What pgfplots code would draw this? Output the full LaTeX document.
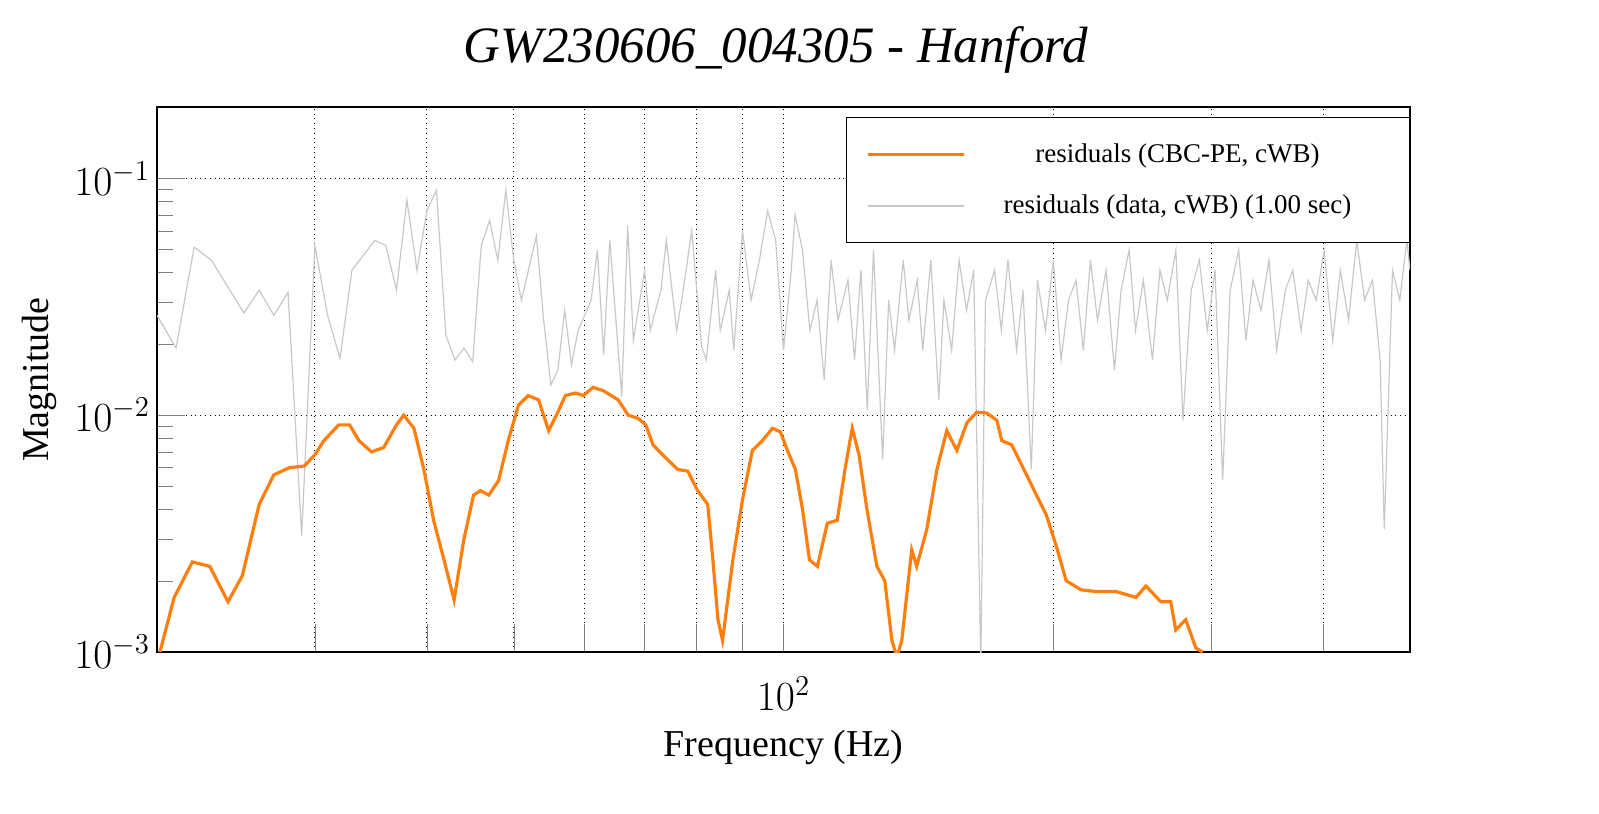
\documentclass[border=0pt]{standalone}
\usepackage{pgfplots}
\pgfplotsset{compat=1.18}
\usepackage{fontspec}
\setmainfont{Liberation Serif}
\definecolor{orng}{HTML}{FF7F0E}
\definecolor{gry}{HTML}{C8C8C8}
\begin{document}
\begin{tikzpicture}
\node[font=\fontsize{25.5}{28}\selectfont\itshape] at (388pt,381.5pt) {GW230606\_004305 - Hanford};
\begin{axis}[at={(78.5pt,80.5pt)},anchor=south west,scale only axis,
 width=626.5pt,height=272.5pt,
 xmode=log,ymode=log,xmin=20,xmax=500,ymin=1e-3,ymax=0.2,
 xtick={30,40,50,60,70,80,90,100,200,300,400},
 xticklabels={,,,,,,,$10^2$,,,},
 minor xtick={},
 ytick={1e-3,1e-2,1e-1},
 yticklabels={$10^{-3}$,$10^{-2}$,$10^{-1}$},
 minor ytick={2e-3,3e-3,4e-3,5e-3,6e-3,7e-3,8e-3,9e-3,2e-2,3e-2,4e-2,5e-2,6e-2,7e-2,8e-2,9e-2,0.2},
 tick align=inside, xtick pos=bottom, ytick pos=left,
 major tick length=14pt, minor tick length=8pt,
 xmajorgrids, ymajorgrids,
 grid style={black,dotted,line width=0.4pt},
 ticklabel style={font=\fontsize{22}{25}\selectfont},
 xticklabel style={yshift=-9pt},
 label style={font=\fontsize{19}{22}\selectfont},
 xlabel={Frequency (Hz)}, ylabel={Magnitude},
 xlabel style={yshift=-3pt}, ylabel style={yshift=2pt},
 axis line style={line width=0.6pt},
 legend style={at={(1,0.982)},anchor=north east,draw=black,line width=0.5pt,
   font=\fontsize{13.5}{15}\selectfont,row sep=11pt,inner xsep=10pt,inner ysep=11pt,
   cells={align=center}},
 reverse legend,
 legend image code/.code={\draw[#1] (0pt,0pt) -- (48pt,0pt);},
]
\addplot[gry,line width=0.6pt] coordinates {
(20,0.0264)(21,0.0192)(22,0.0512)(23,0.0451)(25,0.027)(26,0.0337)(27,0.0264)(28,0.033)(29,0.0031)(30,0.052)
(31,0.0264)(32,0.0174)(33,0.0409)(35,0.0547)(36,0.052)(37,0.0337)(38,0.081)(39,0.0409)(40,0.073)(41,0.089)
(42,0.0218)(43,0.0171)(44,0.0192)(45,0.0168)(46,0.052)(47,0.0665)(48,0.0451)(49,0.089)(50,0.0451)(51,0.0306)
(53,0.057)(54,0.0252)(55,0.0134)(56,0.0155)(57,0.0277)(58,0.0163)(59,0.0228)(61,0.0306)(62,0.0497)(63,0.018)
(64,0.0547)(66,0.012)(67,0.063)(68,0.0207)(70,0.0409)(71,0.0228)(73,0.0337)(74,0.0547)(76,0.0228)(77,0.0306)
(79,0.06)(81,0.0197)(82,0.0171)(84,0.0409)(85,0.0228)(87,0.0337)(88,0.0188)(90,0.06)(92,0.0306)(94,0.0451)
(96,0.073)(98,0.0547)(100,0.0188)(102,0.0409)(103,0.07)(105,0.0497)(107,0.0228)(109,0.0306)(111,0.0141)(113,0.0451)
(115,0.0252)(118,0.0371)(120,0.0171)(122,0.0409)(124,0.0105)(126,0.0497)(129,0.0065)(131,0.0306)(133,0.0188)(136,0.0451)
(138,0.0252)(141,0.0371)(143,0.0188)(146,0.0451)(149,0.0116)(151,0.0306)(154,0.0188)(157,0.0451)(160,0.0277)(163,0.0409)
(166,0.0009)(168,0.0306)(172,0.0409)(175,0.0228)(178,0.0451)(182,0.0188)(185,0.0337)(189,0.0059)(192,0.0371)(196,0.0228)
(200,0.0451)(204,0.0171)(208,0.0306)(212,0.0371)(216,0.0188)(220,0.0451)(224,0.0252)(229,0.0409)(234,0.0155)(238,0.0337)
(243,0.0497)(247,0.0228)(252,0.0371)(258,0.0171)(263,0.0409)(268,0.0306)(274,0.0497)(279,0.0095)(285,0.0337)(291,0.0451)
(297,0.0228)(303,0.0409)(309,0.0053)(315,0.0337)(322,0.0497)(328,0.0207)(334,0.0371)(341,0.0277)(348,0.0451)(355,0.0188)
(363,0.0337)(370,0.0409)(378,0.0228)(385,0.0371)(393,0.0306)(401,0.0497)(410,0.0207)(418,0.0409)(427,0.0252)(436,0.0547)
(445,0.0306)(454,0.0371)(463,0.0171)(468,0.0033)(478,0.0409)(487,0.0306)(496,0.0547)(500,0.0409)
};
\addlegendentry{\makebox[208pt]{residuals (data, cWB) (1.00 sec)}}
\addplot[orng,line width=1.6pt] coordinates {
(20.15,0.001)(20.9,0.0017)(21.9,0.0024)(22.9,0.0023)(24.0,0.00163)(24.9,0.0021)(26.0,0.0042)(27.0,0.0056)(28.1,0.0060)(29.2,0.0061)
(30,0.0068)(30.7,0.0078)(31.9,0.0091)(32.8,0.0091)(33.6,0.0078)(34.7,0.0070)(35.8,0.0073)(37.0,0.0091)(37.7,0.01)(38.7,0.0088)
(39.7,0.0059)(40.7,0.0036)(41.8,0.00245)(42.9,0.00166)(44.0,0.0030)(45.1,0.0046)(45.9,0.0048)(46.9,0.0046)(48.1,0.0053)(49.3,0.0078)
(50.6,0.011)(51.9,0.0121)(53.3,0.0116)(54.7,0.0086)(55.8,0.01)(57.1,0.0121)(58.6,0.0124)(59.8,0.0121)(61.3,0.0131)(62.9,0.0127)
(65.4,0.0116)(67.1,0.01)(68.8,0.0097)(70.2,0.0091)(71.5,0.0075)(73.3,0.0068)(76.2,0.0059)(78.2,0.0058)(80.2,0.0048)(82.3,0.0042)
(83.4,0.00245)(84.5,0.00137)(85.5,0.00112)(87.8,0.00245)(90.0,0.0044)(92.3,0.0071)(94.7,0.0078)(97.2,0.0088)(99.2,0.0085)(101,0.0071)
(103.1,0.0059)(105,0.0040)(106.9,0.00245)(109.1,0.0023)(111.9,0.0035)(114.8,0.0036)(117.1,0.0059)(119.3,0.0088)(121.4,0.0068)(123.9,0.0040)
(127.1,0.0023)(129.7,0.0020)(132.1,0.00112)(133.8,0.00095)(135.5,0.00112)(139,0.0027)(140.8,0.0023)(144.5,0.0033)(148.3,0.0059)(152.1,0.0086)
(156.1,0.0071)(160.2,0.0093)(164.3,0.0103)(168.6,0.0102)(173,0.0095)(175.2,0.0078)(179.7,0.0075)(186.7,0.0056)(191.5,0.0046)(196.4,0.0038)
(201.5,0.0028)(206.7,0.0020)(214.8,0.00183)(223.2,0.0018)(235,0.0018)(247.3,0.0017)(253.7,0.0019)(263.6,0.00163)(270.4,0.00163)(273.9,0.00124)
(281.0,0.00137)(288.4,0.00104)(293.6,0.001)
};
\addlegendentry{\makebox[208pt]{residuals (CBC-PE, cWB)}}
\end{axis}
\pgfresetboundingbox
\path[use as bounding box] (0pt,0pt) rectangle (799.5pt,406.5pt);
\end{tikzpicture}
\end{document}
